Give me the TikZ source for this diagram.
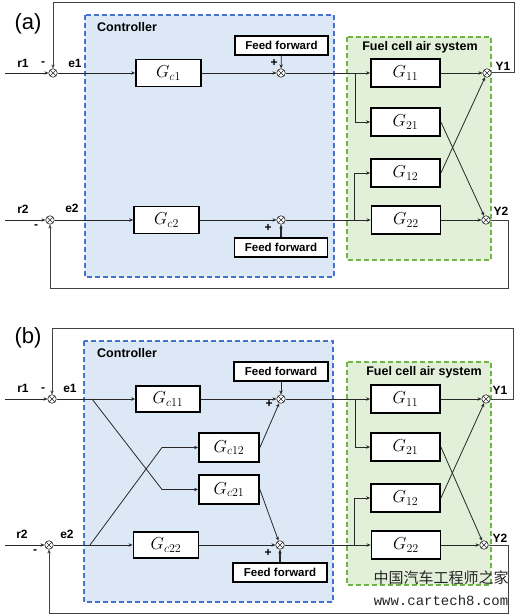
\documentclass[tikz,border=0pt]{standalone}
\usepackage{fontspec}
\usetikzlibrary{arrows.meta}
\newfontfamily\lsans{Liberation Sans}
\newfontfamily\cjkf{Noto Sans CJK SC}
\newfontfamily\wmono{Liberation Mono}
\definecolor{ctrlfill}{RGB}{220,232,246}
\definecolor{ctrlline}{RGB}{68,114,210}
\definecolor{fuelfill}{RGB}{226,239,217}
\definecolor{fuelline}{RGB}{112,180,70}
\definecolor{lncol}{RGB}{40,40,40}
\tikzset{
  blk/.style={draw=black, line width=1.8pt, fill=white, minimum width=69pt, minimum height=28pt, inner sep=0pt, font=\fontsize{18}{18}\selectfont},
  cblk/.style={blk, minimum width=65pt, minimum height=27pt},
  sblk/.style={blk, minimum width=60pt, minimum height=29pt},
  ffbox/.style={draw=black, line width=1.7pt, fill=white, minimum width=93pt, minimum height=19pt, inner sep=0pt, font=\lsans\bfseries\fontsize{11.5}{12}\selectfont},
  sumn/.style={circle, draw=lncol, line width=0.6pt, fill=white, minimum size=8.5pt, inner sep=0pt,
    path picture={\draw[lncol, line width=0.6pt] (path picture bounding box.north east) -- (path picture bounding box.south west) (path picture bounding box.north west) -- (path picture bounding box.south east);}},
  conn/.style={draw=lncol, line width=0.8pt},
  arr/.style={conn, -{Stealth[length=4pt,width=3.4pt]}},
  fb/.style={draw=black!75, line width=1pt},
  lbl/.style={font=\lsans\bfseries\fontsize{12}{12}\selectfont, inner sep=0pt},
  ttl/.style={font=\lsans\bfseries\fontsize{12.5}{13}\selectfont, inner sep=0pt},
  panel/.style={font=\lsans\fontsize{22}{22}\selectfont, inner sep=0pt},
  ctrlbox/.style={draw=ctrlline, fill=ctrlfill, line width=1.3pt, dash pattern=on 5pt off 3pt},
  fuelbox/.style={draw=fuelline, fill=fuelfill, line width=1.3pt, dash pattern=on 5pt off 3pt},
}
\begin{document}
\begin{tikzpicture}[x=1pt,y=-1pt]
\useasboundingbox (0,0) rectangle (519,615);
\fill[white] (0,0) rectangle (519,615);

%%%%%%%%%%%%%%%% panel (a)
\fill[ctrlfill] (85,15) rectangle (334,277);
\fill[fuelfill] (347,37) rectangle (491,260);
\draw[ctrlbox, fill=none] (85,15) rectangle (334,277);
\draw[fuelbox, fill=none] (347,37) rectangle (491,260);
\node[panel] (pa) at (28,24) {(a)};
\node[ttl, anchor=west] (ca) at (97,27) {Controller};
\node[ttl] (fa) at (420,47) {Fuel cell air system};

\node[sumn] (s1a) at (53,73) {};
\node[sumn] (s2a) at (50,220) {};
\node[cblk] (gc1) at (168.5,73) {$G_{c1}$};
\node[cblk] (gc2) at (166.5,220) {$G_{c2}$};
\node[sumn] (f1a) at (281,73) {};
\node[sumn] (f2a) at (281,220) {};
\node[ffbox] (ff1a) at (281.5,45.5) {Feed forward};
\node[ffbox] (ff2a) at (281,247.5) {Feed forward};
\node[blk] (g11a) at (405.5,73) {$G_{11}$};
\node[blk] (g21a) at (405.5,122) {$G_{21}$};
\node[blk] (g12a) at (405.5,173) {$G_{12}$};
\node[blk] (g22a) at (406,220) {$G_{22}$};
\node[sumn] (y1a) at (487,73) {};
\node[sumn] (y2a) at (486,220) {};

\coordinate (r1a) at (5,73);
\coordinate (r2a) at (5,220);
\coordinate (j1a) at (355,73);
\coordinate (j2a) at (354,220);
\coordinate (t1a) at (514,3);
\coordinate (t2a) at (508,288);

\draw[arr] (r1a) -- (s1a);
\draw[arr] (r2a) -- (s2a);
\draw[arr] (s1a) -- (gc1);
\draw[arr] (s2a) -- (gc2);
\draw[arr] (gc1) -- (f1a);
\draw[arr] (gc2) -- (f2a);
\draw[arr] (ff1a) -- (f1a);
\draw[arr, line width=1.2pt] (ff2a) -- (f2a);
\draw[arr] (f1a) -- (g11a);
\draw[arr] (f2a) -- (g22a);
\draw[arr] (j1a) |- (g21a);
\draw[arr] (j2a) |- (g12a);
\draw[arr] (g11a) -- (y1a);
\draw[arr] (g22a) -- (y2a);
\draw[arr] (g21a.east) -- (y2a);
\draw[arr] (g12a.east) -- (y1a);
\draw[fb, -{Stealth[length=4pt,width=3.4pt]}] (y1a) -| (t1a) -| (s1a);
\draw[fb, -{Stealth[length=4pt,width=3.4pt]}] (y2a) -| (t2a) -| (s2a);

\node[lbl] (r1la) at (23,63) {r1};
\node[lbl] (m1a) at (43,64) {-};
\node[lbl] (e1la) at (75,63) {e1};
\node[lbl] (r2la) at (23,209) {r2};
\node[lbl] (m2a) at (36,227) {-};
\node[lbl] (e2la) at (72,208) {e2};
\node[lbl] (p1a) at (274,63) {+};
\node[lbl] (p2a) at (268,228) {+};
\node[lbl] (y1la) at (503,66) {Y1};
\node[lbl] (y2la) at (501,211) {Y2};

%%%%%%%%%%%%%%%% panel (b)
\fill[ctrlfill] (84,341) rectangle (333,602);
\fill[fuelfill] (347,362) rectangle (491,585);
\draw[ctrlbox, fill=none] (84,341) rectangle (333,602);
\draw[fuelbox, fill=none] (347,362) rectangle (491,585);
\node[panel] (pb) at (28,338) {(b)};
\node[ttl, anchor=west] (cb) at (97,353) {Controller};
\node[ttl] (fb) at (424,372) {Fuel cell air system};

\node[sumn] (s1b) at (52,399) {};
\node[sumn] (s2b) at (49,545) {};
\node[cblk, minimum width=64pt, minimum height=26pt] (gc11) at (168,399) {$G_{c11}$};
\node[sblk] (gc12) at (229,447.5) {$G_{c12}$};
\node[sblk] (gc21) at (229,489.5) {$G_{c21}$};
\node[cblk, minimum height=26pt] (gc22) at (166,545) {$G_{c22}$};
\node[sumn] (f1b) at (281,399) {};
\node[sumn] (f2b) at (280,545) {};
\node[ffbox, minimum width=94pt] (ff1b) at (281,371.5) {Feed forward};
\node[ffbox, minimum width=94pt] (ff2b) at (280,572.5) {Feed forward};
\node[blk] (g11b) at (405.5,399) {$G_{11}$};
\node[blk] (g21b) at (405.5,447) {$G_{21}$};
\node[blk] (g12b) at (405.5,498) {$G_{12}$};
\node[blk] (g22b) at (406,545) {$G_{22}$};
\node[sumn] (y1b) at (486,399) {};
\node[sumn] (y2b) at (484,545) {};

\coordinate (r1b) at (5,399);
\coordinate (r2b) at (5,545);
\coordinate (j1b) at (92,399);
\coordinate (k1b) at (162,489.5);
\coordinate (j2b) at (90,545);
\coordinate (k2b) at (162,447.5);
\coordinate (j3b) at (355,399);
\coordinate (j4b) at (354,545);
\coordinate (t1b) at (513,328);
\coordinate (t2b) at (508,613);

\draw[arr] (r1b) -- (s1b);
\draw[arr] (r2b) -- (s2b);
\draw[arr] (s1b) -- (gc11);
\draw[arr] (s2b) -- (gc22);
\draw[arr] (j1b) -- (k1b) -- (gc21);
\draw[arr] (j2b) -- (k2b) -- (gc12);
\draw[arr] (gc11) -- (f1b);
\draw[arr] (gc22) -- (f2b);
\draw[arr] (gc12.east) -- (f1b);
\draw[arr] (gc21.east) -- (f2b);
\draw[arr] (ff1b) -- (f1b);
\draw[arr, line width=1.2pt] (ff2b) -- (f2b);
\draw[arr] (f1b) -- (g11b);
\draw[arr] (f2b) -- (g22b);
\draw[arr] (j3b) |- (g21b);
\draw[arr] (j4b) |- (g12b);
\draw[arr] (g11b) -- (y1b);
\draw[arr] (g22b) -- (y2b);
\draw[arr] (g21b.east) -- (y2b);
\draw[arr] (g12b.east) -- (y1b);
\draw[fb, -{Stealth[length=4pt,width=3.4pt]}] (y1b) -| (t1b) -| (s1b);
\draw[fb, -{Stealth[length=4pt,width=3.4pt]}] (y2b) -| (t2b) -| (s2b);

\node[lbl] (r1lb) at (23,388) {r1};
\node[lbl] (m1b) at (43,390) {-};
\node[lbl] (e1lb) at (70,388) {e1};
\node[lbl] (r2lb) at (22,534) {r2};
\node[lbl] (m2b) at (35,552) {-};
\node[lbl] (e2lb) at (67,534) {e2};
\node[lbl] (p1b) at (269,404) {+};
\node[lbl] (p2b) at (268,553) {+};
\node[lbl] (y1lb) at (500,390) {Y1};
\node[lbl] (y2lb) at (500,538) {Y2};

%%%%%%%%%%%%%%%% watermark
\node[font=\cjkf\fontsize{15}{15}\selectfont, text=black!85, inner sep=0pt] (wm1) at (441,578) {中国汽车工程师之家};
\node[font=\wmono\fontsize{14}{14}\selectfont, text=black!85, inner sep=0pt] (wm2) at (441,600) {www.cartech8.com};
\end{tikzpicture}
\end{document}
